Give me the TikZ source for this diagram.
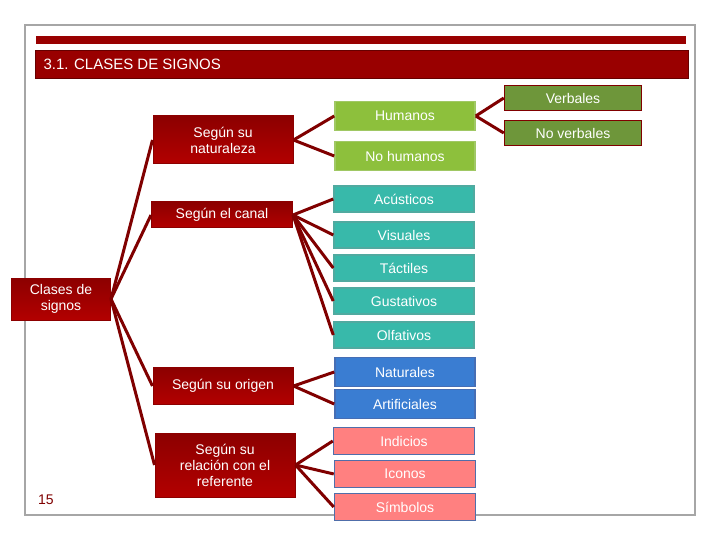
\documentclass[tikz,border=0pt]{standalone}
\usepackage{fontspec}
\setmainfont{Liberation Sans}
\begin{document}
\begin{tikzpicture}[x=1pt,y=-1pt,
 lnk/.style={draw=red!50!black,line width=3pt},
 rbox/.style={draw=red!55!black,line width=1pt,top color=red!55!black,bottom color=red!70!black,text=white,align=center,inner sep=0pt,font=\fontsize{14}{16}\selectfont},
 cbox/.style={line width=1.5pt,text=white,align=center,inner sep=0pt,font=\fontsize{14}{16}\selectfont}]
\useasboundingbox (0,0) rectangle (720,540);
\fill[white] (0,0) rectangle (720,540);
\draw[gray!70,line width=1.5pt] (25,25) rectangle (695,515);
\fill[red!60!black] (36,36) rectangle (686,44);
\node[fill=red!60!black,draw=red!40!black,minimum width=653pt,minimum height=28pt,anchor=north west,inner sep=0pt] (title) at (35,50) {};
\node[text=white,anchor=west,font=\fontsize{15}{17}\selectfont] (tt) at (40,64) {3.1. CLASES DE SIGNOS};
\node[font=\fontsize{14}{16}\selectfont,text=red!50!black] (num) at (46,500) {15};
% level nodes
\node[rbox,minimum width=99pt,minimum height=42pt] (cl) at (61,299) {Clases de\\signos};
\node[rbox,minimum width=140pt,minimum height=48pt] (nat) at (223,140) {Según su\\naturaleza};
\node[rbox,minimum width=141pt,minimum height=26pt] (can) at (222,215) {Según el canal};
\node[rbox,minimum width=140pt,minimum height=37pt] (ori) at (223,386) {Según su origen};
\node[rbox,minimum width=140pt,minimum height=64pt] (rel) at (225,465) {Según su\\relación con el\\referente};
% children
\tikzset{gbox/.style={cbox,fill=green!45!lime!75!black!80,draw=green!50!black!40,minimum width=140pt,minimum height=29pt},
 obox/.style={cbox,fill=olive!70!green!70!black!90,draw=red!50!black,minimum width=137pt,minimum height=25pt},
 tbox/.style={cbox,fill=teal!60!cyan!85!black!85,draw=teal!60!cyan!85!black!55,minimum width=140pt,minimum height=26pt},
 bbox/.style={cbox,fill=blue!55!cyan!60!black!75,draw=blue!55!cyan!50!black!55,minimum width=140pt,minimum height=29pt},
 pbox/.style={cbox,fill=red!50,draw=blue!50!black!60,minimum width=141pt,minimum height=27pt}}
\node[gbox,fill={rgb,255:red,141;green,192;blue,60},draw={rgb,255:red,160;green,200;blue,100}] (hum) at (405,116) {Humanos};
\node[gbox,fill={rgb,255:red,141;green,192;blue,60},draw={rgb,255:red,160;green,200;blue,100}] (nhum) at (405,156) {No humanos};
\node[obox,fill={rgb,255:red,110;green,150;blue,58}] (verb) at (573,98) {Verbales};
\node[obox,fill={rgb,255:red,110;green,150;blue,58}] (nverb) at (573,133) {No verbales};
\tikzset{tc/.style={fill={rgb,255:red,56;green,185;blue,170},draw={rgb,255:red,80;green,170;blue,160}}}
\node[tbox,tc] (acu) at (404,199) {Acústicos};
\node[tbox,tc] (vis) at (404,235) {Visuales};
\node[tbox,tc] (tac) at (404,268) {Táctiles};
\node[tbox,tc] (gus) at (404,301) {Gustativos};
\node[tbox,tc] (olf) at (404,335) {Olfativos};
\tikzset{bc/.style={fill={rgb,255:red,58;green,125;blue,210},draw={rgb,255:red,70;green,110;blue,180}}}
\node[bbox,bc] (natu) at (405,372) {Naturales};
\node[bbox,bc] (art) at (405,404) {Artificiales};
\tikzset{pc/.style={fill={rgb,255:red,255;green,128;blue,128},draw={rgb,255:red,80;green,110;blue,170}}}
\node[pbox,pc] (ind) at (404,441) {Indicios};
\node[pbox,pc] (ico) at (405,474) {Iconos};
\node[pbox,pc] (sim) at (405,507) {Símbolos};
% connectors
\foreach \t in {nat,can,ori,rel} \draw[lnk] (cl.east) -- (\t.west);
\draw[lnk] (nat.east) -- (hum.west);
\draw[lnk] (nat.east) -- (nhum.west);
\draw[lnk] (hum.east) -- (verb.west);
\draw[lnk] (hum.east) -- (nverb.west);
\foreach \t in {acu,vis,tac,gus,olf} \draw[lnk] (can.east) -- (\t.west);
\foreach \t in {natu,art} \draw[lnk] (ori.east) -- (\t.west);
\foreach \t in {ind,ico,sim} \draw[lnk] (rel.east) -- (\t.west);
\end{tikzpicture}
\end{document}
